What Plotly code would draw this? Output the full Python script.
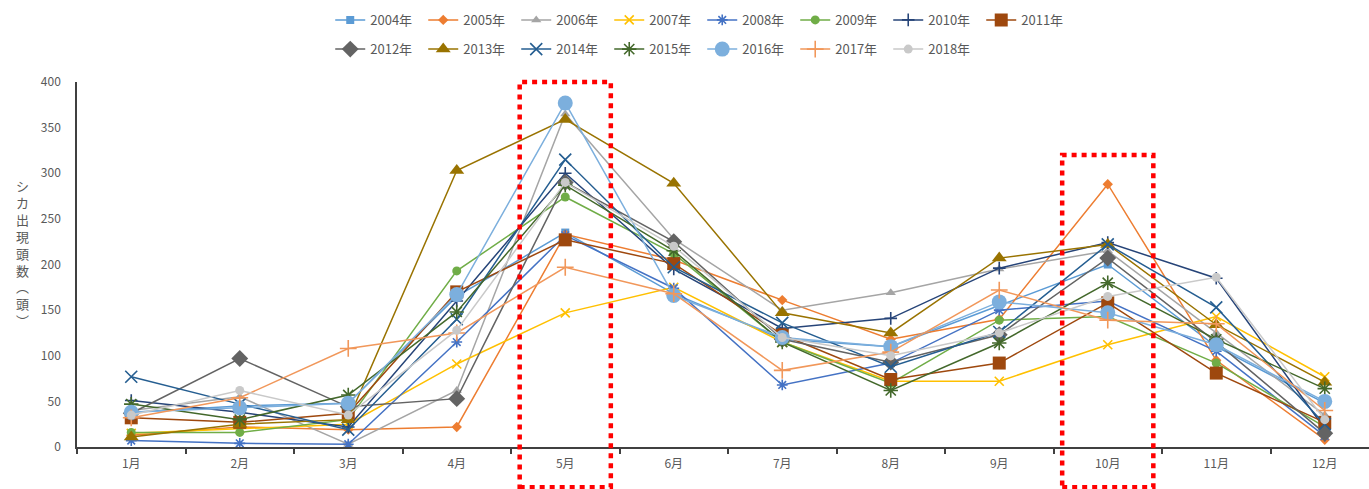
import plotly.graph_objects as go

# Months on the category axis
months = ["1月", "2月", "3月", "4月", "5月", "6月", "7月", "8月", "9月", "10月", "11月", "12月"]

# Monthly deer sightings per year (頭)
y2004 = [38, 45, 48, 165, 235, 168, 118, 110, 155, 200, 110, 48]
y2005 = [13, 22, 19, 22, 233, 205, 161, 118, 140, 288, 95, 8]
y2006 = [40, 55, 3, 62, 365, 228, 150, 169, 195, 215, 125, 35]
y2007 = [15, 20, 25, 91, 147, 175, 115, 72, 72, 112, 143, 77]
y2008 = [7, 4, 3, 115, 232, 174, 68, 92, 150, 160, 105, 12]
y2009 = [16, 16, 30, 193, 274, 212, 115, 70, 139, 143, 92, 22]
y2010 = [51, 38, 22, 160, 300, 195, 130, 141, 196, 224, 185, 20]
y2011 = [32, 27, 37, 170, 227, 201, 123, 74, 92, 158, 81, 27]
y2012 = [37, 97, 44, 53, 290, 225, 118, 93, 123, 207, 115, 15]
y2013 = [11, 25, 30, 303, 359, 289, 147, 125, 207, 222, 134, 71]
y2014 = [77, 47, 19, 140, 315, 197, 136, 88, 126, 222, 153, 25]
y2015 = [47, 30, 57, 148, 287, 215, 115, 62, 114, 180, 118, 64]
y2016 = [38, 43, 48, 167, 377, 166, 120, 110, 159, 147, 112, 50]
y2017 = [32, 54, 108, 125, 197, 168, 84, 104, 172, 139, 135, 40]
y2018 = [35, 62, 35, 128, 290, 220, 120, 100, 125, 165, 186, 30]

series = [
    ("2004年", y2004, "#5B9BD5", "square", 8, "legend"),
    ("2005年", y2005, "#ED7D31", "diamond", 8, "legend"),
    ("2006年", y2006, "#A5A5A5", "triangle-up", 9, "legend"),
    ("2007年", y2007, "#FFC000", "x-thin-open", 9, "legend"),
    ("2008年", y2008, "#4472C4", "asterisk-open", 9, "legend"),
    ("2009年", y2009, "#70AD47", "circle", 9, "legend"),
    ("2010年", y2010, "#264478", "cross-thin-open", 9, "legend"),
    ("2011年", y2011, "#9E480E", "square", 13, "legend"),
    ("2012年", y2012, "#636363", "diamond", 13, "legend2"),
    ("2013年", y2013, "#997300", "triangle-up", 13, "legend2"),
    ("2014年", y2014, "#255E91", "x-thin-open", 12, "legend2"),
    ("2015年", y2015, "#43682B", "asterisk-open", 12, "legend2"),
    ("2016年", y2016, "#7CAFDD", "circle", 15, "legend2"),
    ("2017年", y2017, "#F1975A", "cross-thin-open", 12, "legend2"),
    ("2018年", y2018, "#C9C9C9", "circle", 9, "legend2"),
]

fig = go.Figure()
for name, vals, color, symbol, size, leg in series:
    fig.add_trace(go.Scatter(
        x=months, y=vals, name=name, mode="lines+markers",
        line=dict(color=color, width=1.5),
        marker=dict(symbol=symbol, size=size, color=color,
                    line=dict(color=color, width=1.6 if "open" in symbol else 0)),
        legend=leg,
    ))

W, H = 1369, 489
ML, MR, MT, MB = 77, 0, 82, 42
cat_w = 108.5
plot_w = W - ML - MR
x_lo = -0.5
x_hi = x_lo + plot_w / cat_w


def paper_x(v):
    return (v - x_lo) / (x_hi - x_lo)


# Dotted highlight boxes around May and October
for idx, top in [(months.index("5月"), 1.0), (months.index("10月"), 320 / 400)]:
    fig.add_shape(type="rect", xref="paper", yref="paper",
                  x0=paper_x(idx - 0.42), x1=paper_x(idx + 0.42),
                  y0=-0.11, y1=top,
                  line=dict(color="#FF0000", width=4.5, dash="5px,5px"),
                  fillcolor="rgba(0,0,0,0)", layer="above")

font_jp = "Noto Sans CJK JP, Noto Sans, sans-serif"
legend_common = dict(orientation="h", xanchor="left", yanchor="middle",
                     font=dict(size=13, color="#595959", family=font_jp),
                     bgcolor="rgba(0,0,0,0)", itemclick=False,
                     entrywidth=48, entrywidthmode="pixels")

fig.update_layout(
    width=W, height=H,
    margin=dict(l=ML, r=MR, t=MT, b=MB, pad=0),
    paper_bgcolor="white", plot_bgcolor="white",
    font=dict(family=font_jp, size=12, color="#595959"),
    legend=dict(x=0.196, y=1.17, **legend_common),
    legend2=dict(x=0.196, y=1.09, **legend_common),
    xaxis=dict(type="category", range=[x_lo, x_hi], showgrid=False,
               showline=True, linecolor="#404040", linewidth=1.5,
               ticks="outside", tickson="boundaries", ticklen=5,
               tickcolor="#404040", tickwidth=1.5, ticklabelstandoff=5,
               tickfont=dict(size=12, color="#595959")),
    yaxis=dict(range=[0, 400], dtick=50, showgrid=False, zeroline=False,
               showline=True, linecolor="#404040", linewidth=1.5,
               ticks="", ticklabelstandoff=12,
               tickfont=dict(size=12, color="#595959")),
)

# Vertical axis title written top-to-bottom
title_chars = ["シ", "カ", "出", "現", "頭", "数", "︵", "頭", "︶"]
fig.add_annotation(text="<br>".join(title_chars), xref="paper", yref="paper",
                   x=(22 - ML) / plot_w, y=(447 - 253) / 365,
                   xanchor="center", yanchor="middle", showarrow=False,
                   font=dict(size=13, color="#595959", family=font_jp))

fig.write_html("out.html")
